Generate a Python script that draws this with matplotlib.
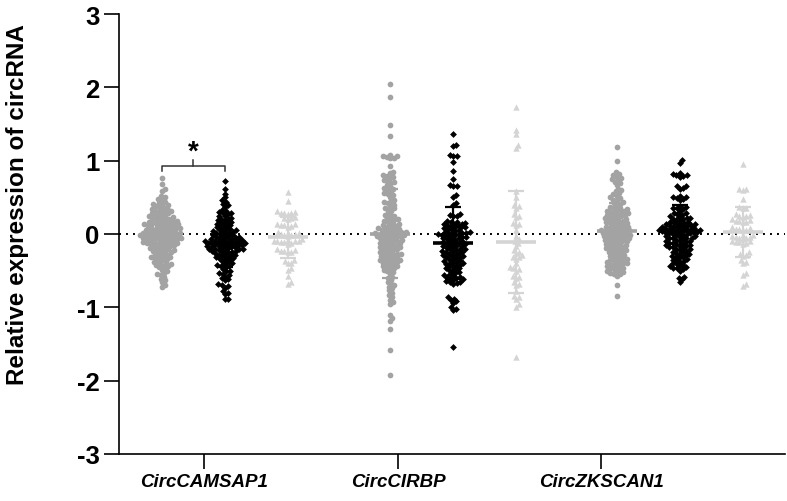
import numpy as np
import matplotlib
matplotlib.use("Agg")
import matplotlib.pyplot as plt

plt.rcParams['font.family'] = ['Liberation Sans', 'DejaVu Sans']

# ---- data ----
genes = ["CircCAMSAP1", "CircCIRBP", "CircZKSCAN1"]

camsap1_grey = [
    0.77, 0.68, 0.61, 0.58, 0.52, 0.50, 0.48, 0.47,
    0.43, 0.42, 0.41, 0.40, 0.39, 0.38, 0.37, 0.36,
    0.34, 0.33, 0.33, 0.32, 0.31, 0.30, 0.30, 0.29, 0.28, 0.27, 0.26, 0.25,
    0.24, 0.24, 0.23, 0.22, 0.22, 0.21, 0.20, 0.20, 0.19, 0.18, 0.18, 0.17, 0.16, 0.16, 0.15, 0.15,
    0.14, 0.14, 0.13, 0.13, 0.12, 0.12, 0.11, 0.11, 0.10, 0.10, 0.09, 0.09, 0.08, 0.08, 0.07, 0.07,
    0.06, 0.06, 0.05, 0.05,
    0.04, 0.04, 0.03, 0.03, 0.02, 0.02, 0.01, 0.01, 0.00, 0.00, 0.00, -0.01, -0.01, -0.02, -0.02,
    -0.03, -0.03, -0.04, -0.04, -0.05, -0.05, -0.05,
    -0.06, -0.06, -0.07, -0.07, -0.08, -0.08, -0.09, -0.09, -0.10, -0.10, -0.11, -0.11, -0.12, -0.12,
    -0.13, -0.13, -0.14, -0.14,
    -0.15, -0.16, -0.17, -0.17, -0.18, -0.19, -0.20, -0.20, -0.21, -0.22, -0.23, -0.23, -0.24, -0.25,
    -0.26, -0.27, -0.28, -0.29, -0.30, -0.31, -0.32, -0.32, -0.33, -0.34, -0.35,
    -0.36, -0.38, -0.39, -0.40, -0.41, -0.42, -0.43, -0.44, -0.45,
    -0.47, -0.49, -0.51, -0.53, -0.54, -0.56, -0.58, -0.61, -0.63, -0.66, -0.69, -0.72,
]
camsap1_black = [
    0.72, 0.62, 0.55, 0.50, 0.46, 0.44, 0.41, 0.39, 0.37,
    0.33, 0.31, 0.30, 0.29, 0.28, 0.27,
    0.25, 0.24, 0.22, 0.21, 0.20, 0.19, 0.18, 0.17, 0.16,
    0.15, 0.14, 0.13, 0.12, 0.11, 0.10, 0.09, 0.08, 0.07, 0.06, 0.06,
    0.05, 0.04, 0.03, 0.03, 0.02, 0.01, 0.00, 0.00, -0.01, -0.02, -0.03, -0.03, -0.04, -0.04, -0.05,
    -0.06, -0.06, -0.07, -0.07, -0.08, -0.08, -0.09, -0.09, -0.10, -0.10, -0.10, -0.11, -0.11,
    -0.12, -0.12, -0.12, -0.13, -0.13, -0.14, -0.14, -0.15, -0.15,
    -0.16, -0.16, -0.17, -0.17, -0.18, -0.18, -0.19, -0.19, -0.20, -0.20, -0.21, -0.21, -0.22,
    -0.22, -0.23, -0.23, -0.24, -0.24, -0.25,
    -0.26, -0.27, -0.28, -0.28, -0.29, -0.30, -0.31, -0.32, -0.33, -0.33, -0.34, -0.35,
    -0.37, -0.38, -0.40, -0.41, -0.42, -0.43, -0.44, -0.45,
    -0.48, -0.50, -0.51, -0.53, -0.54, -0.56, -0.58, -0.60, -0.62, -0.63,
    -0.68, -0.70, -0.71, -0.73, -0.78, -0.80, -0.82, -0.88, -0.89,
]
camsap1_tri = [
    0.57, 0.45, 0.31, 0.30, 0.29, 0.29, 0.28, 0.27, 0.23, 0.22, 0.22, 0.21,
    0.14, 0.13, 0.12, 0.12, 0.11, 0.10,
    0.03, 0.02, 0.01, 0.00, 0.00, -0.01, -0.02, -0.03,
    -0.07, -0.08, -0.09, -0.09, -0.10, -0.10, -0.11, -0.11, -0.12, -0.13,
    -0.21, -0.22, -0.23, -0.23, -0.24, -0.25,
    -0.36, -0.37, -0.39, -0.40, -0.47, -0.49, -0.57, -0.65, -0.68,
]

cirbp_grey = [
    2.05, 1.87, 1.48, 1.33, 1.08, 1.07, 1.06, 1.05, 1.04, 1.03, 0.93,
    0.85, 0.83, 0.80, 0.79, 0.78, 0.76, 0.74, 0.72, 0.71, 0.70,
    0.67, 0.65, 0.63, 0.62, 0.60, 0.58, 0.56, 0.55, 0.53, 0.51,
    0.46, 0.45, 0.43, 0.42, 0.40, 0.38, 0.36, 0.35, 0.33, 0.31,
    0.28, 0.26, 0.25, 0.24, 0.22, 0.21, 0.20, 0.19, 0.18, 0.17, 0.15, 0.14, 0.13, 0.12, 0.11,
    0.10, 0.09, 0.08, 0.08, 0.07, 0.06, 0.05, 0.05, 0.04, 0.03, 0.03, 0.02, 0.01, 0.01,
    0.00, 0.00, -0.01, -0.01, -0.02, -0.03, -0.03, -0.04, -0.05, -0.05, -0.06,
    -0.07, -0.08, -0.08, -0.09, -0.10, -0.11, -0.12, -0.12, -0.13, -0.14, -0.15, -0.16, -0.17,
    -0.18, -0.18, -0.19, -0.20, -0.21, -0.22, -0.23, -0.24, -0.25, -0.26, -0.27, -0.27, -0.28,
    -0.29, -0.30, -0.31, -0.32, -0.33, -0.34, -0.35, -0.36, -0.36, -0.37, -0.38, -0.39, -0.40,
    -0.41, -0.42, -0.43, -0.44, -0.45, -0.46, -0.47, -0.49, -0.50, -0.52, -0.54,
    -0.58, -0.60, -0.63, -0.65, -0.68, -0.70, -0.72, -0.74, -0.77, -0.80, -0.83, -0.86, -0.90,
    -0.93, -0.96, -1.10, -1.14, -1.18, -1.30, -1.58, -1.92,
]
cirbp_black = [
    1.37, 1.22, 1.20, 1.08, 1.07, 1.06, 0.98, 0.86, 0.75, 0.67, 0.66, 0.65, 0.53, 0.51, 0.42, 0.39,
    0.27, 0.26, 0.25, 0.24,
    0.18, 0.17, 0.16, 0.15, 0.14, 0.14, 0.13, 0.12, 0.12, 0.11, 0.10, 0.09, 0.09, 0.08, 0.07,
    0.06, 0.05, 0.04, 0.03, 0.03, 0.02, 0.02, 0.01, 0.01, 0.00, 0.00, -0.01, -0.02, -0.02, -0.03,
    -0.04, -0.04, -0.05, -0.06, -0.06, -0.07, -0.08, -0.09, -0.10,
    -0.11, -0.12, -0.12, -0.13, -0.14, -0.15, -0.16, -0.16, -0.17, -0.18, -0.19, -0.20, -0.20,
    -0.21, -0.22, -0.23, -0.24, -0.24, -0.25, -0.26, -0.27, -0.28, -0.29, -0.30, -0.30, -0.31,
    -0.32, -0.33, -0.34, -0.35, -0.36, -0.37, -0.38, -0.39, -0.40, -0.40, -0.41, -0.42, -0.43,
    -0.44, -0.45, -0.46, -0.47, -0.48, -0.49, -0.50,
    -0.52, -0.53, -0.55, -0.56, -0.57, -0.58, -0.59, -0.60, -0.61, -0.62, -0.63, -0.64, -0.65,
    -0.66, -0.67, -0.68,
    -0.86, -0.88, -0.90, -0.92, -0.94, -1.00, -1.02, -1.04, -1.54,
]
cirbp_tri = [
    1.73, 1.42, 1.36, 1.21, 1.17, 0.58, 0.50,
    0.40, 0.38, 0.36, 0.27, 0.25, 0.23, 0.15, 0.14, 0.12, 0.05,
    -0.03, -0.07, -0.10, -0.12, -0.16,
    -0.22, -0.24, -0.26, -0.29, -0.31, -0.32, -0.34, -0.40,
    -0.45, -0.47, -0.48, -0.50, -0.57, -0.58, -0.60, -0.66, -0.68, -0.70,
    -0.78, -0.84, -0.86, -0.88, -0.96, -0.99, -1.68,
]

zkscan1_grey = [
    1.18, 1.00, 0.84, 0.82, 0.80, 0.78, 0.76, 0.75, 0.73, 0.71, 0.69, 0.67,
    0.62, 0.60, 0.58, 0.56, 0.54, 0.52, 0.50, 0.49, 0.47, 0.46, 0.44, 0.42, 0.41, 0.39, 0.37,
    0.36, 0.35, 0.34, 0.33, 0.32, 0.31, 0.30, 0.30, 0.29, 0.28, 0.27, 0.26, 0.26, 0.25, 0.24,
    0.23, 0.22, 0.22, 0.21, 0.20, 0.19, 0.18, 0.18, 0.17, 0.16, 0.15, 0.15, 0.14, 0.13, 0.12,
    0.11, 0.10, 0.10, 0.09, 0.08, 0.08, 0.07, 0.06, 0.06, 0.05, 0.05, 0.04, 0.03, 0.03, 0.02,
    0.02, 0.01, 0.00, 0.00, -0.01, -0.01, -0.02, -0.03, -0.03, -0.04, -0.04, -0.05, -0.06,
    -0.06, -0.07, -0.08, -0.08, -0.09, -0.10, -0.10,
    -0.11, -0.12, -0.13, -0.14, -0.15, -0.15, -0.16, -0.17, -0.18, -0.19, -0.20, -0.20, -0.21,
    -0.22, -0.23, -0.24, -0.25, -0.26, -0.27, -0.28,
    -0.29, -0.30, -0.31, -0.32, -0.33, -0.34, -0.35, -0.35, -0.36, -0.37, -0.38, -0.39, -0.40,
    -0.40, -0.41, -0.42, -0.43, -0.44, -0.45, -0.46,
    -0.47, -0.48, -0.49, -0.50, -0.51, -0.52, -0.53, -0.54, -0.55, -0.57, -0.70, -0.84,
]
zkscan1_black = [
    1.01, 0.97, 0.83, 0.82, 0.81, 0.80, 0.79, 0.78, 0.66, 0.65, 0.63, 0.62,
    0.52, 0.51, 0.50, 0.49, 0.48, 0.46, 0.38, 0.37, 0.36, 0.35, 0.34, 0.32,
    0.29, 0.28, 0.27, 0.26, 0.24, 0.23, 0.22, 0.22, 0.21, 0.20, 0.19, 0.18, 0.17, 0.16, 0.15, 0.15,
    0.14, 0.13, 0.13, 0.12, 0.12, 0.11, 0.11, 0.10, 0.10, 0.09, 0.09, 0.08, 0.08, 0.07, 0.07,
    0.06, 0.06, 0.06, 0.05, 0.05, 0.04, 0.04, 0.04, 0.03, 0.03, 0.02, 0.02, 0.01, 0.01,
    0.00, 0.00, -0.01,
    -0.02, -0.03, -0.03, -0.04, -0.05, -0.05, -0.06, -0.06, -0.07, -0.08, -0.09, -0.09, -0.10,
    -0.11, -0.12, -0.12, -0.13, -0.14, -0.15, -0.15, -0.16, -0.17, -0.18, -0.18, -0.19, -0.20,
    -0.21, -0.22, -0.23, -0.24, -0.25, -0.26, -0.27, -0.28, -0.29, -0.30, -0.31, -0.32, -0.33,
    -0.34, -0.35, -0.36, -0.37, -0.38,
    -0.40, -0.41, -0.42, -0.43, -0.44, -0.45, -0.46, -0.47, -0.48, -0.50,
    -0.58, -0.60, -0.62, -0.66,
]
zkscan1_tri = [
    0.95, 0.62, 0.61, 0.60, 0.48, 0.37, 0.36, 0.35,
    0.27, 0.26, 0.25, 0.24, 0.23, 0.20, 0.19, 0.18, 0.18, 0.17, 0.16,
    0.09, 0.08, 0.07, 0.07, 0.06, 0.05,
    -0.01, -0.02, -0.03, -0.04, -0.04, -0.05, -0.06, -0.07,
    -0.09, -0.10, -0.11, -0.11, -0.12, -0.13,
    -0.25, -0.27, -0.28, -0.30, -0.36, -0.38, -0.40, -0.53, -0.56, -0.68, -0.71,
]

groups = [
    [camsap1_grey, camsap1_black, camsap1_tri],
    [cirbp_grey, cirbp_black, cirbp_tri],
    [zkscan1_grey, zkscan1_black, zkscan1_tri],
]

# ---- layout / style ----
W, H = 787, 502
group_centers = [1.68, 5.30, 8.90]
col_offsets = [-1.0, 0.0, 1.0]
tick_pos = [1.35, 4.43, 7.65]
XMAX = 10.57

styles = [
    dict(marker='o', color='#a3a3a3', s=17),
    dict(marker='D', color='#000000', s=12),
    dict(marker='^', color='#d4d4d4', s=21),
]

fig = plt.figure(figsize=(W / 100, H / 100), dpi=100)
ax_l, ax_b, ax_w, ax_h = 119 / W, 47 / H, 666 / W, 440 / H
ax = fig.add_axes([ax_l, ax_b, ax_w, ax_h])
ax.set_xlim(0, XMAX)
ax.set_ylim(-3, 3)

px_x = ax_w * W / XMAX      # pixels per x unit
px_y = ax_h * H / 6.0       # pixels per y unit


def swarm_offsets(values, diam):
    """simple beeswarm: place each point nearest the centre without overlap (pixel space)"""
    vals = np.asarray(values, dtype=float)
    order = np.argsort(vals)
    placed = []
    xs = np.zeros(len(vals))
    for i in order:
        y = vals[i] * px_y
        near = [(xj, yj) for xj, yj in placed if abs(yj - y) < diam]
        cands = [0.0]
        for xj, yj in near:
            dx = np.sqrt(diam ** 2 - (y - yj) ** 2)
            cands += [xj + dx, xj - dx]
        cands.sort(key=abs)
        for c in cands:
            if all((c - xj) ** 2 + (y - yj) ** 2 >= diam ** 2 - 1e-6 for xj, yj in near):
                xs[i] = c
                break
        placed.append((xs[i], y))
    return xs / px_x


# dotted zero line
ax.plot([0, XMAX], [0, 0], color='black', lw=1.4, linestyle=(0, (1, 2.6)), zorder=1)

for gc, cols in zip(group_centers, groups):
    for off, vals, st in zip(col_offsets, cols, styles):
        x0 = gc + off
        dx = swarm_offsets(vals, 3.7)
        ax.scatter(x0 + dx, vals, marker=st['marker'], s=st['s'], color=st['color'],
                   linewidths=0, zorder=2, clip_on=False)
        m = np.mean(vals)
        sd = np.std(vals, ddof=1)
        c = st['color']
        ax.plot([x0 - 0.32, x0 + 0.32], [m, m], color=c, lw=2.6, zorder=3, solid_capstyle='butt')
        ax.plot([x0, x0], [m - sd, m + sd], color=c, lw=1.6, zorder=3)
        for e in (m - sd, m + sd):
            ax.plot([x0 - 0.13, x0 + 0.13], [e, e], color=c, lw=1.6, zorder=3,
                    solid_capstyle='butt')

# significance bracket between first two columns of CircCAMSAP1
bx0 = group_centers[0] + col_offsets[0]
bx1 = group_centers[0] + col_offsets[1]
bxm = (bx0 + bx1) / 2
ax.plot([bx0, bx0, bx1, bx1], [0.86, 0.93, 0.93, 0.86], color='#333333', lw=1.1, zorder=3)
ax.plot([bxm, bxm], [0.93, 1.01], color='#333333', lw=1.1, zorder=3)
ax.text(bxm, 1.12, '*', ha='center', va='center', fontsize=20, fontweight='bold')

# axes styling
ax.spines['top'].set_visible(False)
ax.spines['right'].set_visible(False)
for sp in ('left', 'bottom'):
    ax.spines[sp].set_linewidth(1.2)
ax.set_yticks(range(-3, 4))
ax.set_yticklabels([str(v) for v in range(-3, 4)], fontsize=18.5, fontweight='bold')
ax.set_xticks(tick_pos)
ax.set_xticklabels(genes, fontsize=13.5, fontweight='bold', fontstyle='italic')
ax.tick_params(axis='both', length=11, width=1.2, pad=3)
ax.set_ylabel('Relative expression of circRNA', fontsize=17.5, fontweight='bold')
ax.yaxis.set_label_coords(-0.135, 0.57)

fig.savefig('out.png', dpi=100, facecolor='white')
